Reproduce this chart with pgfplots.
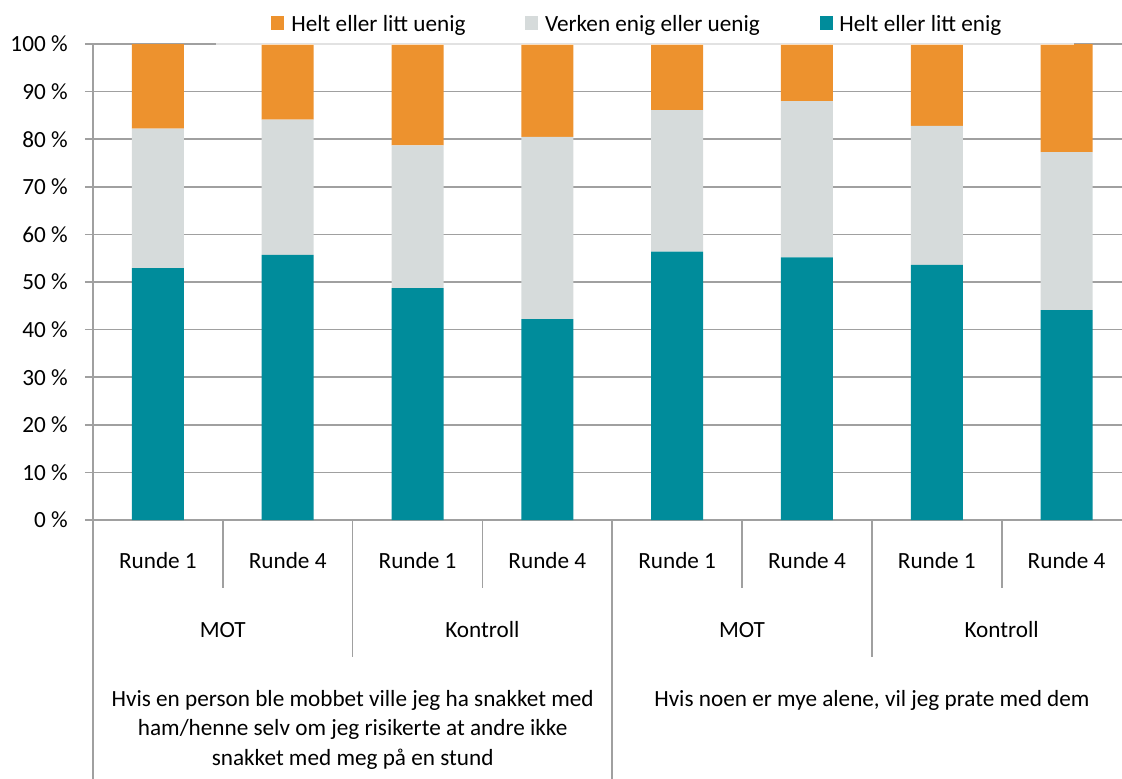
\documentclass[border=0pt]{standalone}
\usepackage{fontspec}
\setmainfont{Carlito}
\usepackage{pgfplots}
\pgfplotsset{compat=1.18}

\definecolor{uenig}{HTML}{ED922E}
\definecolor{verken}{HTML}{D6DBDB}
\definecolor{enig}{HTML}{008C9B}
\definecolor{linegray}{RGB}{160,160,160}

\begin{document}
\fontsize{11.6}{14.75}\selectfont
\begin{tikzpicture}[sep/.style={linegray, line width=0.85pt}]
  \begin{axis}[
      at={(0,0)}, anchor=south west,
      scale only axis,
      width=514.5pt, height=238pt,
      xmin=-0.5, xmax=7.427,
      ymin=0, ymax=100,
      enlargelimits=false,
      clip=false,
      ybar stacked,
      bar width=26pt,
      axis x line*=bottom, axis y line*=left,
      axis line style={linegray, line width=0.85pt},
      ymajorgrids,
      grid style={linegray, line width=0.85pt},
      ytick={0,10,...,100},
      yticklabel={\pgfmathprintnumber{\tick} \%},
      yticklabel style={anchor=east, inner sep=0pt, xshift=-8.5pt},
      y tick style={linegray, line width=0.85pt},
      tick align=outside,
      major tick length=4pt,
      xtick=data,
      xticklabels={Runde 1, Runde 4, Runde 1, Runde 4, Runde 1, Runde 4, Runde 1, Runde 4},
      x tick style={draw=none},
      xticklabel style={anchor=center, inner sep=0pt, yshift=-16.5pt},
      /pgf/number format/assume math mode=true,
    ]
    % legend box covers the top gridline
    \fill[white, opacity=0.7] ([yshift=-0.6pt]axis cs:0.45,100) rectangle ([yshift=22pt]axis cs:7.06,100);

    \addplot[fill=enig, draw=none] coordinates {
        (0,52.9) (1,55.7) (2,48.7) (3,42.2) (4,56.4) (5,55.2) (6,53.6) (7,44.1)
      };
    \addplot[fill=verken, draw=none] coordinates {
        (0,29.3) (1,28.4) (2,30.0) (3,38.3) (4,29.7) (5,32.8) (6,29.2) (7,33.2)
      };
    \addplot[fill=uenig, draw=none] coordinates {
        (0,17.8) (1,15.9) (2,21.3) (3,19.5) (4,13.9) (5,12.0) (6,17.2) (7,22.7)
      };

    % category separators
    \draw[sep] (axis cs:0.5,0) -- ([yshift=-34pt]axis cs:0.5,0);
    \draw[sep] (axis cs:2.5,0) -- ([yshift=-34pt]axis cs:2.5,0);
    \draw[sep] (axis cs:4.5,0) -- ([yshift=-34pt]axis cs:4.5,0);
    \draw[sep] (axis cs:6.5,0) -- ([yshift=-34pt]axis cs:6.5,0);
    \draw[sep] (axis cs:1.5,0) -- ([yshift=-68.5pt]axis cs:1.5,0);
    \draw[sep] (axis cs:5.5,0) -- ([yshift=-68.5pt]axis cs:5.5,0);
    \draw[sep] (axis cs:-0.5,0) -- ([yshift=-130pt]axis cs:-0.5,0);
    \draw[sep] (axis cs:3.5,0) -- ([yshift=-130pt]axis cs:3.5,0);

    % second level
    \node[inner sep=0pt] at ([yshift=-55pt]axis cs:0.5,0) {MOT};
    \node[inner sep=0pt] at ([yshift=-55pt]axis cs:2.5,0) {Kontroll};
    \node[inner sep=0pt] at ([yshift=-55pt]axis cs:4.5,0) {MOT};
    \node[inner sep=0pt] at ([yshift=-55pt]axis cs:6.5,0) {Kontroll};
    % third level
    \node[anchor=base, align=center, inner sep=0pt] at ([yshift=-122.5pt]axis cs:1.5,0)
      {Hvis en person ble mobbet ville jeg ha snakket med\\
       ham/henne selv om jeg risikerte at andre ikke\\
       snakket med meg på en stund};
    \node[anchor=base, inner sep=0pt] at ([yshift=-93pt]axis cs:5.5,0)
      {Hvis noen er mye alene, vil jeg prate med dem};
  \end{axis}

  % legend
  \fill[uenig]  (89pt,245pt) rectangle ++(6.5pt,7pt);
  \node[anchor=base west, inner sep=0pt] at (99pt,244pt) {Helt eller litt uenig};
  \fill[verken] (216pt,245pt) rectangle ++(6.5pt,7pt);
  \node[anchor=base west, inner sep=0pt] at (225.8pt,244pt) {Verken enig eller uenig};
  \fill[enig]   (363.5pt,245pt) rectangle ++(6.5pt,7pt);
  \node[anchor=base west, inner sep=0pt] at (373pt,244pt) {Helt eller litt enig};

  \pgfresetboundingbox
  \useasboundingbox (-46.5pt,-129pt) rectangle (514.5pt,260pt);
\end{tikzpicture}
\end{document}
